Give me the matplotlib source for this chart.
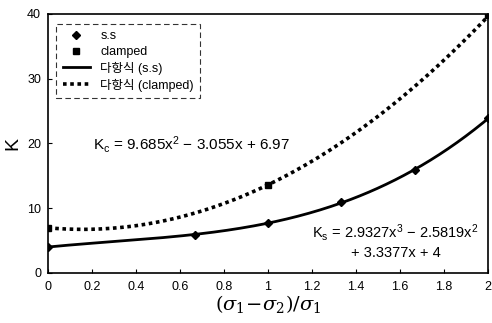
import numpy as np
import matplotlib
matplotlib.use("Agg")
import matplotlib.pyplot as plt

plt.rcParams['font.family'] = ['Liberation Sans', 'Noto Sans CJK KR', 'DejaVu Sans']
plt.rcParams['mathtext.fontset'] = 'custom'
plt.rcParams['mathtext.rm'] = 'Liberation Sans'
plt.rcParams['mathtext.it'] = 'Liberation Sans'

# data
ss_x = [0, 0.667, 1.0, 1.333, 1.667, 2.0]
ss_k = [4.0, 5.9, 7.7, 10.9, 15.9, 23.9]
cl_x = [0, 1.0, 2.0]
cl_k = [7.0, 13.6, 39.8]
# trendline coefficients printed on the chart (highest power first)
ss_coef = [2.9327, -2.5819, 3.3377, 4.0]
cl_coef = [9.685, -3.055, 6.97]
xticks = [0, 0.2, 0.4, 0.6, 0.8, 1.0, 1.2, 1.4, 1.6, 1.8, 2.0]
xticklabels = ['0', '0.2', '0.4', '0.6', '0.8', '1', '1.2', '1.4', '1.6', '1.8', '2']
yticks = [0, 10, 20, 30, 40]

fig = plt.figure(figsize=(4.92, 3.23), dpi=100)
ax = fig.add_axes([0.0976, 0.155, 0.894, 0.802])

xs = np.linspace(0, 2, 200)
ax.plot(ss_x, ss_k, linestyle='none', marker='D', ms=4, color='black', label='s.s')
ax.plot(cl_x, cl_k, linestyle='none', marker='s', ms=5, color='black', label='clamped')
ax.plot(xs, np.polyval(ss_coef, xs), '-', color='black', lw=2, label='다항식 (s.s)')
ax.plot(xs, np.polyval(cl_coef, xs), linestyle=(0, (1, 1)), color='black', lw=2.6,
        label='다항식 (clamped)')

ax.set_xlim(0, 2)
ax.set_ylim(0, 40)
ax.set_xticks(xticks)
ax.set_xticklabels(xticklabels)
ax.set_yticks(yticks)
ax.tick_params(direction='in', length=3, labelsize=9)
ax.tick_params(axis='x', pad=6)
ax.tick_params(axis='y', pad=5)
for s in ax.spines.values():
    s.set_linewidth(1.2)

ax.set_ylabel('K', fontsize=14, labelpad=4)
ax.set_xlabel(r'$(\sigma_1\!-\!\sigma_2)/\sigma_1$', fontsize=14, labelpad=0,
              family='DejaVu Serif', math_fontfamily='dejavuserif')

leg = ax.legend(loc='upper left', fontsize=9, frameon=True, fancybox=False,
                edgecolor='black', borderpad=0.5, handlelength=2.2,
                labelspacing=0.3, bbox_to_anchor=(0.005, 0.985))
leg.get_frame().set_linestyle((0, (5, 3)))
leg.get_frame().set_linewidth(0.8)

ax.text(0.205, 19.8, r'K$_c$ = 9.685x$^2$ $-$ 3.055x + 6.97', fontsize=11,
        ha='left', va='center')
ax.text(1.58, 4.9, 'K$_s$ = 2.9327x$^3$ $-$ 2.5819x$^2$\n+ 3.3377x + 4', fontsize=10.5,
        ha='center', va='center', linespacing=1.3,
        bbox=dict(facecolor='white', edgecolor='none', pad=1))

fig.savefig('out.png', dpi=100)
